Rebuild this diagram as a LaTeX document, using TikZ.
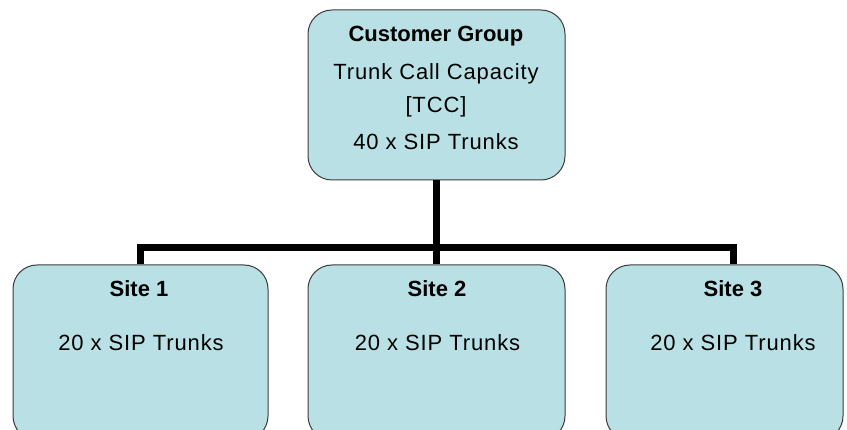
\documentclass[tikz,border=0pt]{standalone}
\usepackage{fontspec}
\setmainfont{Liberation Sans}
\newfontfamily\spacedfont[LetterSpace=4]{Liberation Sans}
\usetikzlibrary{positioning}

\definecolor{boxfill}{RGB}{185,224,228}
\definecolor{boxline}{RGB}{60,60,60}

\begin{document}
\begin{tikzpicture}[x=1pt,y=-1pt,
  box/.style={draw=boxline, line width=1pt, fill=boxfill, rounded corners=24pt, inner sep=0pt},
  title/.style={anchor=base, inner sep=0pt, font=\fontsize{22}{26}\selectfont\bfseries},
  body/.style={anchor=base, inner sep=0pt, font=\fontsize{22}{26}\spacedfont},
  link/.style={line width=7pt, line join=miter}]
\useasboundingbox (0,0) rectangle (847,430);
\clip (0,0) rectangle (847,430);

% group box
\node[box, minimum width=257pt, minimum height=170pt] (group) at (436.5,95) {};
\node[title] (grouptitle) at (436,42) {Customer Group};
\node[body] (groupcap) at (436,80) {Trunk Call Capacity};
\node[body] (grouptcc) at (436,113) {[TCC]};
\node[body] (grouptrunks) at (436,150) {40 x SIP Trunks};

% sites
\node[box, minimum width=255pt, minimum height=175pt] (site1) at (140.5,352.5) {};
\node[title] (site1title) at (139,297) {Site 1};
\node[body] (site1trunks) at (141,351) {20 x SIP Trunks};

\node[box, minimum width=257pt, minimum height=175pt] (site2) at (436.5,352.5) {};
\node[title] (site2title) at (437,297) {Site 2};
\node[body] (site2trunks) at (437.5,351) {20 x SIP Trunks};

\node[box, minimum width=237pt, minimum height=175pt] (site3) at (724.5,352.5) {};
\node[title] (site3title) at (733,297) {Site 3};
\node[body] (site3trunks) at (733,351) {20 x SIP Trunks};

% tree lines
\coordinate (bus) at (436.5,248);
\draw[link] (group.south) -- (site2.north);
\draw[link] (site1.north) |- (bus) -| (site3.north -| site3title);
\end{tikzpicture}
\end{document}
